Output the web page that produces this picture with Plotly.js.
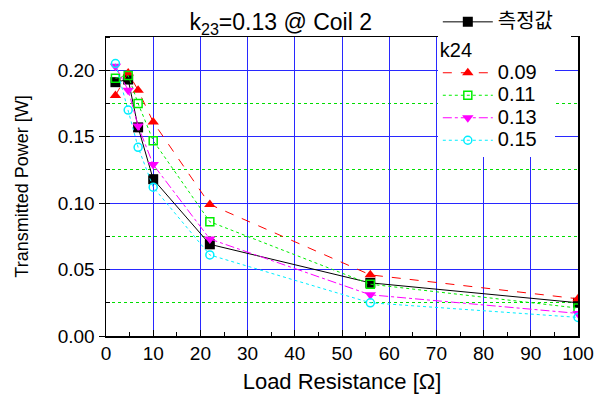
<!DOCTYPE html>
<html>
<head>
<meta charset="utf-8">
<script src="https://cdn.plot.ly/plotly-3.0.1.min.js"></script>
<style>
  html, body { margin: 0; padding: 0; background: #fff; }
  #chart { width: 605px; height: 397px; }
</style>
</head>
<body>
<div id="chart"></div>
<script>
// Load resistance values [ohm]
const loadResistance = [2, 4.7, 6.8, 10, 22, 56, 100];

// Measured transmitted power [W]
const measured = [0.191, 0.193, 0.157, 0.118, 0.069, 0.040, 0.025];

// Simulated transmitted power for each k24 [W]
const k24Labels = ['0.09', '0.11', '0.13', '0.15'];
const powerK009 = [0.181, 0.198, 0.185, 0.161, 0.099, 0.046, 0.028];
const powerK011 = [0.194, 0.196, 0.175, 0.147, 0.086, 0.039, 0.021];
const powerK013 = [0.203, 0.185, 0.158, 0.129, 0.073, 0.031, 0.017];
const powerK015 = [0.205, 0.170, 0.142, 0.112, 0.061, 0.025, 0.014];

const FONT = 'Liberation Sans, Arial, "Noto Sans CJK KR", sans-serif';

// legend rows are packed tightly: small base font, larger visible label,
// trailing blank space widens the white legend box
const big = s => '<span style="font-size:20px">' + s + '</span>&nbsp;&nbsp;&nbsp;';

const traces = [
  {
    x: loadResistance, y: measured, name: big('측정값'), legend: 'legend',
    mode: 'lines+markers',
    line: { color: '#000000', width: 1, dash: 'solid' },
    marker: { symbol: 'square', size: 10, color: '#000000' }
  },
  {
    x: loadResistance, y: powerK009, name: big(k24Labels[0]), legend: 'legend2',
    mode: 'lines+markers',
    line: { color: '#ff0000', width: 1, dash: 'dash' },
    marker: { symbol: 'triangle-up', size: 10, color: '#ff0000' }
  },
  {
    x: loadResistance, y: powerK011, name: big(k24Labels[1]), legend: 'legend2',
    mode: 'lines+markers',
    line: { color: '#00ee00', width: 1, dash: 'dot' },
    marker: { symbol: 'square-open', size: 8, color: '#00ee00', line: { width: 1.5 } }
  },
  {
    x: loadResistance, y: powerK013, name: big(k24Labels[2]), legend: 'legend2',
    mode: 'lines+markers',
    line: { color: '#ff00ff', width: 1, dash: 'dashdot' },
    marker: { symbol: 'triangle-down', size: 10, color: '#ff00ff' }
  },
  {
    x: loadResistance, y: powerK015, name: big(k24Labels[3]), legend: 'legend2',
    mode: 'lines+markers',
    line: { color: '#00eeff', width: 1, dash: 'dot' },
    marker: { symbol: 'circle-open', size: 8, color: '#00eeff', line: { width: 1.5 } }
  }
];

const layout = {
  width: 605, height: 397,
  margin: { l: 106, r: 27, t: 37, b: 61, autoexpand: false },
  paper_bgcolor: '#ffffff', plot_bgcolor: '#ffffff',
  font: { family: FONT, size: 18, color: '#000000' },
  showlegend: true,
  title: {
    text: 'k<sub>23</sub>=0.13 @ Coil 2',
    font: { family: FONT, size: 23, color: '#000000' },
    x: 0.464, xanchor: 'center', xref: 'container',
    y: 0.945, yanchor: 'middle', yref: 'container'
  },
  xaxis: {
    range: [0, 100], dtick: 10, tick0: 0,
    showline: true, linecolor: '#000000', linewidth: 1.5, mirror: true,
    ticks: 'inside', ticklen: 6, tickcolor: '#000000',
    showgrid: true, gridcolor: '#2828ff', gridwidth: 1,
    zeroline: false,
    tickfont: { family: FONT, size: 19 },
    minor: { dtick: 5, ticks: 'inside', ticklen: 4, tickcolor: '#000000', showgrid: false },
    title: { text: 'Load Resistance [Ω]', font: { family: FONT, size: 22 }, standoff: 10 }
  },
  yaxis: {
    range: [0, 0.225], dtick: 0.05, tick0: 0, tickformat: '.2f',
    showline: true, linecolor: '#000000', linewidth: 1.5, mirror: true,
    ticks: 'outside', ticklen: 6, tickcolor: '#000000',
    showgrid: true, gridcolor: '#2828ff', gridwidth: 1,
    zeroline: false,
    tickfont: { family: FONT, size: 19 },
    minor: { dtick: 0.025, ticks: 'inside', ticklen: 4, tickcolor: '#000000',
             showgrid: true, gridcolor: '#00dd00', griddash: 'dot', gridwidth: 1 },
    title: { text: 'Transmitted Power [W]', font: { family: FONT, size: 18 }, standoff: 24 }
  },
  legend: {
    x: 0.703, xanchor: 'left', y: 1.105, yanchor: 'top',
    bgcolor: '#ffffff', borderwidth: 0,
    font: { family: FONT, size: 15 },
    itemwidth: 50, tracegroupgap: 0
  },
  legend2: {
    x: 0.703, xanchor: 'left', y: 1.0, yanchor: 'top',
    bgcolor: '#ffffff', borderwidth: 0,
    font: { family: FONT, size: 15 },
    itemwidth: 50, tracegroupgap: 0,
    title: { text: big('k24'), font: { family: FONT, size: 15 } }
  }
};

Plotly.newPlot('chart', traces, layout, { displayModeBar: false, staticPlot: true });
</script>
</body>
</html>
